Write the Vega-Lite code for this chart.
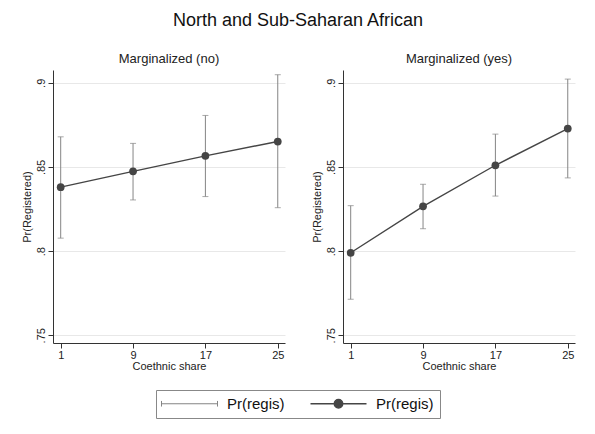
{
  "$schema": "https://vega.github.io/schema/vega-lite/v6.json",
  "background": "white",
  "padding": {"left": 21, "top": 12, "right": 20, "bottom": 10},
  "title": {"text": "North and Sub-Saharan African", "fontSize": 18, "font": "Liberation Sans", "fontWeight": "normal", "color": "#111", "anchor": "middle", "offset": 23},
  "data": {"values": [
    {"marg": "Marginalized (no)", "share": 1, "p": 0.838, "lo": 0.8077, "hi": 0.8679},
    {"marg": "Marginalized (no)", "share": 9, "p": 0.8474, "lo": 0.8304, "hi": 0.864},
    {"marg": "Marginalized (no)", "share": 17, "p": 0.8566, "lo": 0.8324, "hi": 0.8806},
    {"marg": "Marginalized (no)", "share": 25, "p": 0.8651, "lo": 0.8258, "hi": 0.9048},
    {"marg": "Marginalized (yes)", "share": 1, "p": 0.799, "lo": 0.7714, "hi": 0.827},
    {"marg": "Marginalized (yes)", "share": 9, "p": 0.8266, "lo": 0.8133, "hi": 0.8397},
    {"marg": "Marginalized (yes)", "share": 17, "p": 0.851, "lo": 0.8327, "hi": 0.8695},
    {"marg": "Marginalized (yes)", "share": 25, "p": 0.8728, "lo": 0.8435, "hi": 0.9022}
  ]},
  "facet": {"column": {"field": "marg", "type": "nominal", "header": {"title": null, "labelFontSize": 13, "labelFont": "Liberation Sans", "labelColor": "#222", "labelPadding": 4}}},
  "spacing": 26,
  "resolve": {"axis": {"y": "independent", "x": "independent"}},
  "spec": {
    "width": 232,
    "height": 273,
    "encoding": {
      "x": {"field": "share", "type": "quantitative", "scale": {"domain": [0.15, 25.8], "nice": false, "zero": false},
        "axis": {"values": [1, 9, 17, 25], "title": "Coethnic share", "grid": false, "labelFontSize": 11, "titleFontSize": 11, "titleFontWeight": "normal", "labelFont": "Liberation Sans", "titleFont": "Liberation Sans", "tickSize": 5, "labelPadding": 1, "titlePadding": 0, "domainColor": "#333", "tickColor": "#333", "labelColor": "#222", "titleColor": "#222"}},
      "color": {"datum": "ci", "type": "nominal",
        "scale": {"domain": ["ci", "est"], "range": ["#858585", "#454545"]},
        "legend": {"title": null, "orient": "none", "legendX": 103, "legendY": 320, "direction": "horizontal", "columns": 2,
          "labelExpr": "'Pr(regis)'", "labelFontSize": 15, "labelFont": "Liberation Sans", "labelColor": "#111",
          "symbolSize": 3136, "symbolOffset": 20, "labelOffset": 30, "columnPadding": 22, "padding": 6, "strokeColor": "#888", "fillColor": "white",
          "encode": {"symbols": {"update": {
            "shape": {"signal": "datum.value === 'ci' ? 'M-1,-0.1L-1,0.1M-1,0L1,0M1,-0.1L1,0.1' : 'M-1,0L1,0M0.15,0A0.15,0.15 0 1,1 -0.15,0A0.15,0.15 0 1,1 0.15,0Z'"},
            "size": {"value": 3136},
            "fill": {"signal": "datum.value === 'ci' ? 'transparent' : '#555555'"},
            "stroke": {"signal": "datum.value === 'ci' ? '#858585' : '#454545'"},
            "strokeWidth": {"signal": "datum.value === 'ci' ? 1 : 1.5"},
            "opacity": {"value": 1}
          }}}}}
    },
    "layer": [
      {"mark": {"type": "rule", "strokeWidth": 1},
        "encoding": {"y": {"field": "lo", "type": "quantitative", "scale": {"domain": [0.7454, 0.9076], "nice": false, "zero": false},
          "axis": {"values": [0.75, 0.8, 0.85, 0.9], "format": ".2~f", "labelExpr": "substring(datum.label, 1)", "labelAngle": 270, "title": "Pr(Registered)", "grid": true, "gridColor": "#e8e8e8", "gridWidth": 1, "labelFontSize": 11, "titleFontSize": 11, "titleFontWeight": "normal", "labelFont": "Liberation Sans", "titleFont": "Liberation Sans", "tickSize": 5, "labelPadding": 2, "titlePadding": 3, "domainColor": "#333", "tickColor": "#333", "labelColor": "#222", "titleColor": "#222"}},
          "y2": {"field": "hi"}}},
      {"mark": {"type": "tick", "orient": "horizontal", "size": 6, "thickness": 1},
        "encoding": {"y": {"field": "lo", "type": "quantitative"}}},
      {"mark": {"type": "tick", "orient": "horizontal", "size": 6, "thickness": 1},
        "encoding": {"y": {"field": "hi", "type": "quantitative"}}},
      {"mark": {"type": "line", "strokeWidth": 1.4},
        "encoding": {"y": {"field": "p", "type": "quantitative"}, "color": {"datum": "est", "type": "nominal"}}},
      {"mark": {"type": "point", "filled": true, "size": 60, "opacity": 1},
        "encoding": {"y": {"field": "p", "type": "quantitative"}, "color": {"datum": "est", "type": "nominal"}}}
    ]
  },
  "config": {
    "view": {"stroke": null}
  }
}
